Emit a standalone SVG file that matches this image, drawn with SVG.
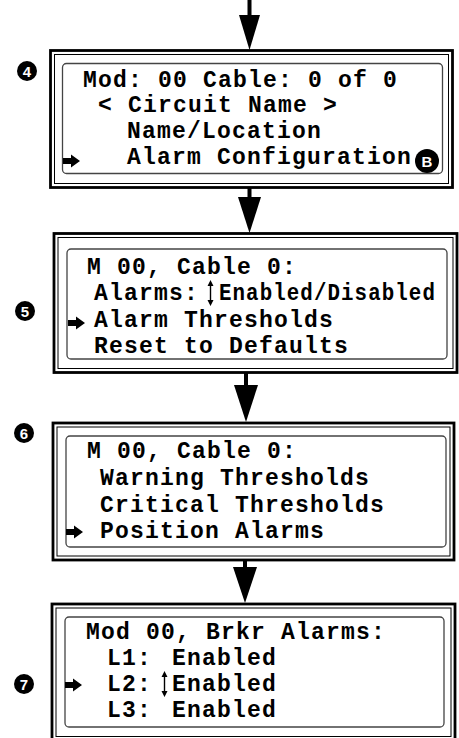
<svg xmlns="http://www.w3.org/2000/svg" width="459" height="738" viewBox="0 0 459 738">
<style>
.thick{fill:none;stroke:#000;stroke-width:2.8}
.thin{fill:none;stroke:#000;stroke-width:1}
.lcd{fill:none;stroke:#444;stroke-width:1.3}
.t{font-family:"Liberation Mono",monospace;font-weight:bold;font-size:23px;letter-spacing:1.2px;fill:#000}
.num{font-family:"Liberation Sans",Arial,sans-serif;font-weight:bold;font-size:15px;fill:#fff;text-anchor:middle}
</style>
<defs>
<path id="ptr" d="M0,-3 L8,-3 L8,-6.5 L17,0 L8,6.5 L8,3 L0,3 Z" fill="#000"/>
<g id="ud"><line x1="0" y1="-9" x2="0" y2="9" stroke="#000" stroke-width="1.4"/><path d="M-3,-7 L0,-13 L3,-7 Z M-3,7 L0,13 L3,7 Z" fill="#000"/></g>
</defs>
<g id="connectors">
<rect x="247.5" y="0" width="4" height="16" fill="#000"/>
<path d="M239,15 L260,15 L249.5,50 Z" fill="#000"/>
<rect x="247.5" y="188" width="4" height="10" fill="#000"/>
<path d="M238,197 L261,197 L249.5,233 Z" fill="#000"/>
<rect x="244" y="372" width="4" height="14" fill="#000"/>
<path d="M234,385 L258,385 L246,422 Z" fill="#000"/>
<rect x="243" y="560" width="4" height="8" fill="#000"/>
<path d="M233,567 L257,567 L245,603 Z" fill="#000"/>
</g>
<g id="step4">
<rect class="thick" x="50.5" y="50.5" width="402" height="137"/>
<rect class="thin" x="54.5" y="54.5" width="394" height="129"/>
<rect class="lcd" x="62.5" y="63.5" width="380" height="110" rx="4"/>
<circle cx="27" cy="71" r="10" fill="#000"/><text class="num" x="27" y="76.5">4</text>
<text class="t" x="83" y="87">Mod: 00 Cable: 0 of 0</text>
<text class="t" x="98" y="112">&lt; Circuit Name &gt;</text>
<text class="t" x="127" y="138">Name/Location</text>
<use href="#ptr" x="63" y="161"/>
<text class="t" x="127" y="164">Alarm Configuration</text>
<circle cx="427" cy="161" r="12" fill="#000"/><text class="num" x="427" y="166.5" font-size="16">B</text>
</g>
<g id="step5">
<rect class="thick" x="54" y="233.5" width="403" height="139"/>
<rect class="thin" x="58" y="237.5" width="395" height="131"/>
<rect class="lcd" x="67" y="249" width="380" height="110" rx="4"/>
<circle cx="25" cy="311" r="10" fill="#000"/><text class="num" x="25" y="316.5">5</text>
<text class="t" x="87" y="274">M 00, Cable 0:</text>
<text class="t" x="94" y="300">Alarms:</text>
<use href="#ud" x="210.5" y="293"/>
<text class="t" x="219" y="300" textLength="217" lengthAdjust="spacingAndGlyphs">Enabled/Disabled</text>
<use href="#ptr" x="68" y="323"/>
<text class="t" x="94" y="327">Alarm Thresholds</text>
<text class="t" x="94" y="353">Reset to Defaults</text>
</g>
<g id="step6">
<rect class="thick" x="53" y="423" width="401" height="137"/>
<rect class="thin" x="57" y="427" width="393" height="129"/>
<rect class="lcd" x="66" y="436" width="380" height="111" rx="4"/>
<circle cx="24" cy="433" r="10" fill="#000"/><text class="num" x="24" y="438.5">6</text>
<text class="t" x="87" y="458">M 00, Cable 0:</text>
<text class="t" x="100" y="485">Warning Thresholds</text>
<text class="t" x="100" y="512">Critical Thresholds</text>
<use href="#ptr" x="66" y="532"/>
<text class="t" x="100" y="538">Position Alarms</text>
</g>
<g id="step7">
<rect class="thick" x="52" y="604" width="403" height="140"/>
<rect class="thin" x="56" y="608" width="395" height="128.5"/>
<rect class="lcd" x="65" y="617" width="379" height="110" rx="4"/>
<circle cx="24" cy="684" r="10" fill="#000"/><text class="num" x="24" y="689.5">7</text>
<text class="t" x="86" y="639">Mod 00, Brkr Alarms:</text>
<text class="t" x="107" y="665">L1:</text>
<text class="t" x="172" y="665">Enabled</text>
<use href="#ptr" x="65" y="685"/>
<text class="t" x="107" y="691">L2:</text>
<use href="#ud" x="164.5" y="684"/>
<text class="t" x="172" y="691">Enabled</text>
<text class="t" x="107" y="717">L3:</text>
<text class="t" x="172" y="717">Enabled</text>
</g>
</svg>
